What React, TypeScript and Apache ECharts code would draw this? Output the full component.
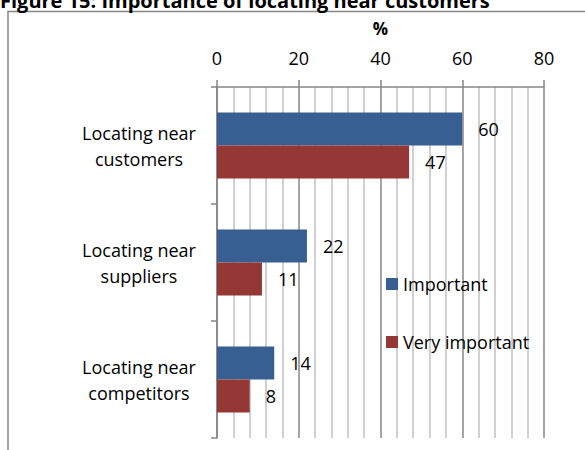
import React, { useEffect, useRef } from "react";
import * as echarts from "echarts";

const categories = ["Locating near\ncustomers", "Locating near\nsuppliers", "Locating near\ncompetitors"];
const important = [60, 22, 14];
const veryImportant = [47, 11, 8];
const titleText = "Figure 15: Importance of locating near customers";

export default function App() {
  const ref = useRef<HTMLDivElement>(null);
  useEffect(() => {
    document.body.style.margin = "0";
    const chart = echarts.init(ref.current!, null, { renderer: "svg" });
    const font = "'Open Sans', sans-serif";
    chart.setOption({
      animation: false,
      textStyle: { fontFamily: font },
      graphic: [
        {
          type: "rect",
          shape: { x: 8, y: 11.5, width: 700, height: 600 },
          style: { fill: "none", stroke: "#868686", lineWidth: 1.5 },
          silent: true,
        },
        {
          type: "text",
          x: 0,
          y: 0,
          style: {
            text: titleText,
            font: `bold 20px ${font}`,
            fill: "#000",
            verticalAlign: "middle",
            align: "left",
          },
        },
      ],
      legend: {
        orient: "vertical",
        left: 381,
        top: 268,
        itemWidth: 12,
        itemHeight: 12,
        itemGap: 36,
        icon: "rect",
        textStyle: { fontSize: 18, color: "#000", lineHeight: 22, fontFamily: font },
        data: ["Important", "Very important"],
      },
      grid: { left: 217, right: 41, top: 87, bottom: 12, containLabel: false },
      xAxis: {
        type: "value",
        position: "top",
        min: 0,
        max: 80,
        interval: 20,
        name: "%",
        nameLocation: "middle",
        nameGap: 50,
        nameTextStyle: { fontSize: 17, fontWeight: "bold", color: "#000", fontFamily: font },
        axisLine: { show: true, lineStyle: { color: "#868686", width: 1.5 } },
        axisTick: { show: true, length: 7, lineStyle: { color: "#868686", width: 1.5 } },
        axisLabel: { fontSize: 18, color: "#000", margin: 20, fontFamily: font },
        splitLine: { show: true, lineStyle: { color: "#868686", width: 1.5 } },
        minorTick: { show: false, splitNumber: 5 },
        minorSplitLine: { show: true, lineStyle: { color: "#c0c0c0", width: 1.5 } },
      },
      yAxis: {
        type: "category",
        inverse: true,
        data: categories,
        axisLine: { show: true, lineStyle: { color: "#868686", width: 1.5 } },
        axisTick: { show: true, length: 6, lineStyle: { color: "#868686", width: 1.5 } },
        axisLabel: {
          fontSize: 18,
          color: "#000",
          align: "center",
          margin: 78,
          lineHeight: 26,
          fontFamily: font,
        },
      },
      series: [
        {
          name: "Important",
          type: "bar",
          data: important,
          barWidth: 33,
          barGap: "0%",
          itemStyle: { color: "#385F91" },
          label: { show: true, position: "right", distance: 16, fontSize: 18, color: "#000", fontFamily: font },
        },
        {
          name: "Very important",
          type: "bar",
          data: veryImportant,
          barWidth: 33,
          barGap: "0%",
          itemStyle: { color: "#953735" },
          label: { show: true, position: "right", distance: 16, fontSize: 18, color: "#000", fontFamily: font },
        },
      ],
    });
    return () => chart.dispose();
  }, []);
  return <div ref={ref} style={{ width: 585, height: 450 }} />;
}
